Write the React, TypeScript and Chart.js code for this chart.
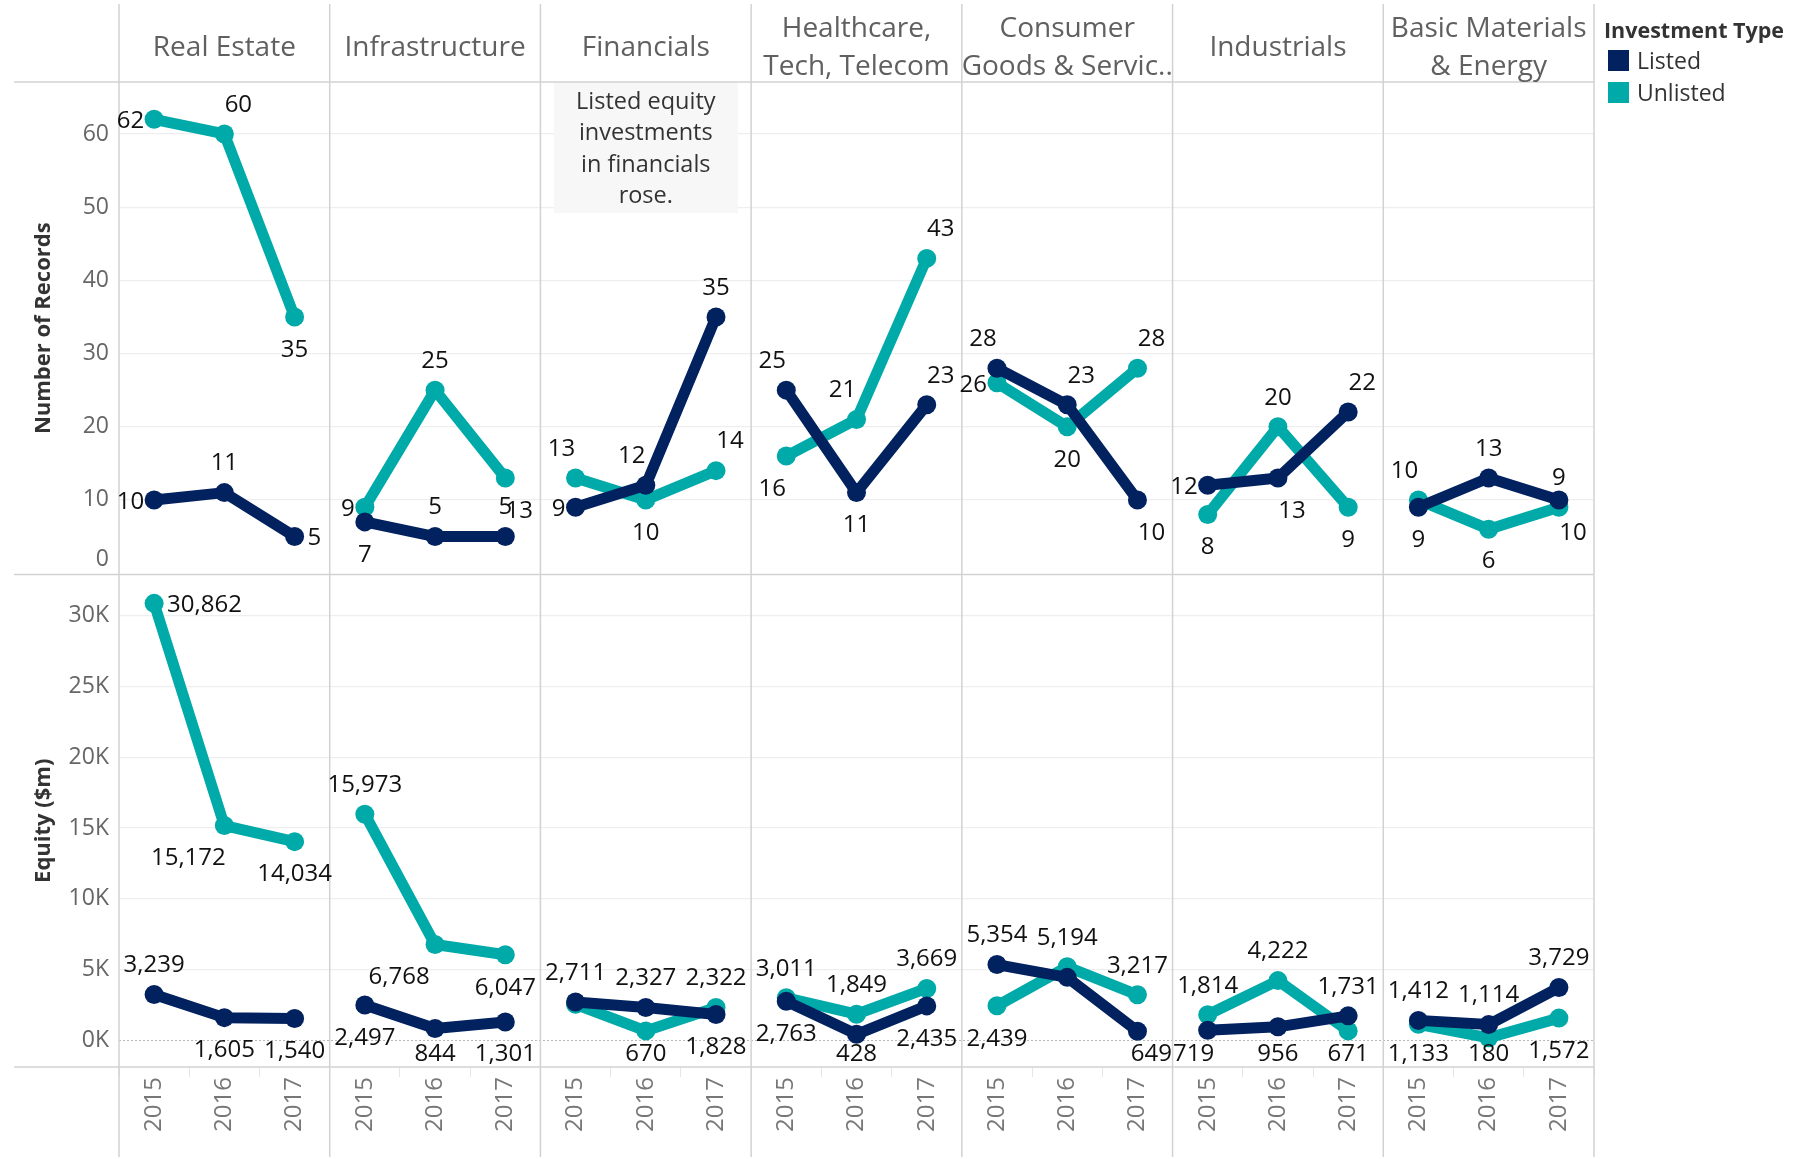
import React, { useEffect, useRef } from 'react';
import { Chart, registerables } from 'chart.js';

Chart.register(...registerables);

// ---------- data ----------
const sectors: string[][] = [
  ['Real Estate'],
  ['Infrastructure'],
  ['Financials'],
  ['Healthcare,', 'Tech, Telecom'],
  ['Consumer', 'Goods & Servic..'],
  ['Industrials'],
  ['Basic Materials', '& Energy'],
];
const years = ['2015', '2016', '2017'];

// Number of Records, per sector [2015, 2016, 2017]
const listedCount = [[10, 11, 5], [7, 5, 5], [9, 12, 35], [25, 11, 23], [28, 23, 10], [12, 13, 22], [9, 13, 10]];
const unlistedCount = [[62, 60, 35], [9, 25, 13], [13, 10, 14], [16, 21, 43], [26, 20, 28], [8, 20, 9], [10, 6, 9]];

// Equity ($m), per sector [2015, 2016, 2017]
const listedEquity = [[3239, 1605, 1540], [2497, 844, 1301], [2711, 2327, 1828], [2763, 428, 2435], [5354, 4450, 649], [719, 956, 1731], [1412, 1114, 3729]];
const unlistedEquity = [[30862, 15172, 14034], [15973, 6768, 6047], [2550, 670, 2322], [3011, 1849, 3669], [2439, 5194, 3217], [1814, 4222, 671], [1133, 180, 1572]];

const countTicks = [0, 10, 20, 30, 40, 50, 60];
const equityTicks = [0, 5000, 10000, 15000, 20000, 25000, 30000];

const annotationLines = ['Listed equity', 'investments', 'in financials', 'rose.'];

// ---------- label placement (style) ----------
const labelPlaceListedCount = [['L', 'T', 'R'], ['B', 'T', 'T'], ['L', 'TL', 'T'], ['TL', 'B', 'TR'], ['TL', 'TR', 'BR'], ['L', 'BR', 'TR'], ['B', 'T', 'BR']];
const labelPlaceUnlistedCount = [['L', 'TR', 'B'], ['L', 'T', 'BR'], ['TL', 'B', 'TR'], ['BL', 'TL', 'TR'], ['L', 'B', 'TR'], ['B', 'T', 'B'], ['TL', 'B', 'T']];
const labelPlaceListedEquity = [['T', 'B', 'B'], ['B', 'B', 'B'], ['T', 'T', 'B'], ['B', 'B', 'B'], ['T', 'N', 'BR'], ['BL', 'B', 'T'], ['T', 'T', 'T']];
const labelPlaceUnlistedEquity = [['R', 'BW', 'B'], ['T', 'BW', 'B'], ['N', 'B', 'T'], ['T', 'T', 'T'], ['B', 'T', 'T'], ['T', 'T', 'B'], ['B', 'B', 'B']];

const placeMap: Record<string, { dx: number; dy: number; align: CanvasTextAlign }> = {
  T: { dx: 0, dy: -29, align: 'center' },
  B: { dx: 0, dy: 33, align: 'center' },
  L: { dx: -10, dy: 2, align: 'right' },
  R: { dx: 13, dy: 2, align: 'left' },
  TL: { dx: -14, dy: -29, align: 'center' },
  TR: { dx: 14, dy: -29, align: 'center' },
  BL: { dx: -14, dy: 33, align: 'center' },
  BR: { dx: 14, dy: 33, align: 'center' },
  BW: { dx: -36, dy: 33, align: 'center' },
};

const COLORS = { listed: '#02215f', unlisted: '#00aaa8' };
const FONT = "'Open Sans', 'Noto Sans', sans-serif";

const xLabels: string[] = [];
sectors.forEach(() => years.forEach((y) => xLabels.push(y)));

function panelData(vals: number[], p: number) {
  const arr: (number | null)[] = Array(xLabels.length).fill(null);
  vals.forEach((v, i) => (arr[p * 3 + i] = v));
  return arr;
}

function buildDatasets() {
  const ds: any[] = [];
  const rows = [
    { axis: 'yCount', listed: listedCount, unlisted: unlistedCount, pl: labelPlaceListedCount, pu: labelPlaceUnlistedCount },
    { axis: 'yEq', listed: listedEquity, unlisted: unlistedEquity, pl: labelPlaceListedEquity, pu: labelPlaceUnlistedEquity },
  ];
  rows.forEach((row) => {
    (['listed', 'unlisted'] as const).forEach((key) => {
      const vals = row[key];
      const places = key === 'listed' ? row.pl : row.pu;
      vals.forEach((v, p) => {
        ds.push({
          label: key === 'listed' ? 'Listed' : 'Unlisted',
          data: panelData(v, p),
          yAxisID: row.axis,
          borderColor: COLORS[key],
          backgroundColor: COLORS[key],
          pointBackgroundColor: COLORS[key],
          pointBorderWidth: 0,
          pointRadius: 9.5,
          pointHoverRadius: 9.5,
          borderWidth: 11,
          borderCapStyle: 'round',
          borderJoinStyle: 'round',
          spanGaps: false,
          order: key === 'listed' ? 1 : 2,
          panel: p,
          labelPlaces: places[p],
        });
      });
    });
  });
  return ds;
}

const fmt = (v: number) => v.toLocaleString('en-US');

const decorPlugin = {
  id: 'decor',
  beforeDatasetsDraw(chart: any) {
    const { ctx, chartArea } = chart;
    const x = chart.scales.x;
    const yC = chart.scales.yCount;
    const yE = chart.scales.yEq;
    const n = sectors.length;
    const bounds: number[] = [chartArea.left];
    for (let k = 1; k < n; k++) {
      bounds.push((x.getPixelForValue(k * 3 - 1) + x.getPixelForValue(k * 3)) / 2);
    }
    bounds.push(chartArea.right);
    ctx.save();
    // zero reference line (equity)
    ctx.strokeStyle = '#b8b8b8';
    ctx.lineWidth = 1;
    ctx.setLineDash([2, 2]);
    const z = Math.round(yE.getPixelForValue(0)) + 0.5;
    ctx.beginPath();
    ctx.moveTo(chartArea.left, z);
    ctx.lineTo(chartArea.right, z);
    ctx.stroke();
    ctx.setLineDash([]);
    // panel separators
    ctx.strokeStyle = '#d2d2d2';
    ctx.lineWidth = 1.5;
    bounds.forEach((bx) => {
      ctx.beginPath();
      ctx.moveTo(bx, 4);
      ctx.lineTo(bx, 1157);
      ctx.stroke();
    });
    [chartArea.top, yC.bottom, chartArea.bottom].forEach((hy: number) => {
      ctx.beginPath();
      ctx.moveTo(14, hy);
      ctx.lineTo(chartArea.right, hy);
      ctx.stroke();
    });
    // headers
    ctx.fillStyle = '#606060';
    ctx.font = `28px ${FONT}`;
    ctx.textAlign = 'center';
    ctx.textBaseline = 'middle';
    sectors.forEach((lines, k) => {
      const cx = (bounds[k] + bounds[k + 1]) / 2;
      if (lines.length === 1) {
        ctx.fillText(lines[0], cx, chartArea.top - 34);
      } else {
        ctx.fillText(lines[0], cx, chartArea.top - 53);
        ctx.fillText(lines[1], cx, chartArea.top - 15);
      }
    });
    // annotation (Financials panel)
    const acx = (bounds[2] + bounds[3]) / 2;
    ctx.fillStyle = '#f7f7f7';
    ctx.fillRect(acx - 92, chartArea.top + 1, 184, 130);
    ctx.fillStyle = '#333333';
    ctx.font = `23.5px ${FONT}`;
    annotationLines.forEach((t, i) => {
      ctx.fillText(t, acx, chartArea.top + 20 + i * 31.5);
    });
    // legend
    const lx = chartArea.right + 10;
    ctx.textAlign = 'left';
    ctx.fillStyle = '#333333';
    ctx.font = `bold 21.5px ${FONT}`;
    ctx.fillText('Investment Type', lx, 32);
    ctx.font = `23px ${FONT}`;
    [['Listed', COLORS.listed, 62], ['Unlisted', COLORS.unlisted, 94]].forEach(([t, c, cy]: any) => {
      ctx.fillStyle = c;
      ctx.fillRect(lx + 4, cy - 12, 21, 21);
      ctx.fillStyle = '#333333';
      ctx.fillText(t, lx + 33, cy);
    });
    ctx.restore();
  },
  afterDatasetsDraw(chart: any) {
    const { ctx } = chart;
    ctx.save();
    ctx.font = `24px ${FONT}`;
    ctx.fillStyle = '#111111';
    ctx.textBaseline = 'middle';
    chart.data.datasets.forEach((ds: any, di: number) => {
      const meta = chart.getDatasetMeta(di);
      const ys = chart.scales[ds.yAxisID];
      for (let i = 0; i < 3; i++) {
        const idx = ds.panel * 3 + i;
        const code = ds.labelPlaces[i];
        if (code === 'N') continue;
        const el = meta.data[idx];
        const v = ds.data[idx];
        if (!el || v == null) continue;
        const o = placeMap[code];
        let ty = el.y + o.dy;
        ty = Math.min(ty, ys.bottom - 13);
        ty = Math.max(ty, ys.top + 16);
        ctx.textAlign = o.align;
        ctx.fillText(fmt(v), el.x + o.dx, ty);
      }
    });
    ctx.restore();
  },
};

export default function App() {
  const ref = useRef<HTMLCanvasElement | null>(null);
  useEffect(() => {
    document.body.style.margin = '0';
    if (!ref.current) return;
    Chart.defaults.font.family = FONT;
    const chart = new Chart(ref.current, {
      type: 'line',
      data: { labels: xLabels, datasets: buildDatasets() },
      options: {
        animation: false,
        responsive: false,
        devicePixelRatio: 1,
        layout: { padding: { top: 82, right: 201, bottom: 0, left: 0 } },
        plugins: { legend: { display: false }, tooltip: { enabled: false } },
        scales: {
          x: {
            type: 'category',
            offset: true,
            grid: { display: true, drawOnChartArea: false, drawTicks: true, tickLength: 10, offset: true, color: '#e6e6e6' },
            border: { display: false },
            ticks: { autoSkip: false, minRotation: 90, maxRotation: 90, padding: 0, color: '#777777', font: { size: 24 } },
            afterFit: (s: any) => { s.height = 92; },
          },
          yEq: {
            type: 'linear',
            position: 'left',
            stack: 'rows',
            stackWeight: 1,
            weight: 1,
            min: -1880,
            max: 32900,
            afterBuildTicks: (s: any) => { s.ticks = equityTicks.map((v) => ({ value: v })); },
            ticks: { autoSkip: false, padding: 10, color: '#666666', font: { size: 23 }, callback: (v: any) => `${v / 1000}K` },
            grid: { drawTicks: false, color: (c: any) => (c.tick && c.tick.value === 0 ? 'rgba(0,0,0,0)' : '#eeeeee'), lineWidth: 1.2 },
            border: { display: false },
            title: { display: true, text: 'Equity ($m)', color: '#333333', font: { size: 22, weight: 'bold' }, padding: { top: 31, bottom: 0 } },
            afterFit: (s: any) => { s.width = 119; },
          },
          yCount: {
            type: 'linear',
            position: 'left',
            stack: 'rows',
            stackWeight: 1,
            weight: 2,
            min: -0.19,
            max: 67.1,
            afterBuildTicks: (s: any) => { s.ticks = countTicks.map((v) => ({ value: v })); },
            ticks: { autoSkip: false, padding: 10, color: '#666666', font: { size: 23 }, callback: (v: any) => (v === 0 ? ['0', ''] : String(v)) },
            grid: { drawTicks: false, color: (c: any) => (c.tick && c.tick.value === 0 ? 'rgba(0,0,0,0)' : '#eeeeee'), lineWidth: 1.2 },
            border: { display: false },
            title: { display: true, text: 'Number of Records', color: '#333333', font: { size: 22, weight: 'bold' }, padding: { top: 31, bottom: 0 } },
            afterFit: (s: any) => { s.width = 119; },
          },
        } as any,
      },
      plugins: [decorPlugin],
    });
    return () => chart.destroy();
  }, []);
  return (
    <div style={{ width: 1795, height: 1159, position: 'relative', background: '#fff' }}>
      <canvas ref={ref} width={1795} height={1159} style={{ display: 'block' }} />
    </div>
  );
}
